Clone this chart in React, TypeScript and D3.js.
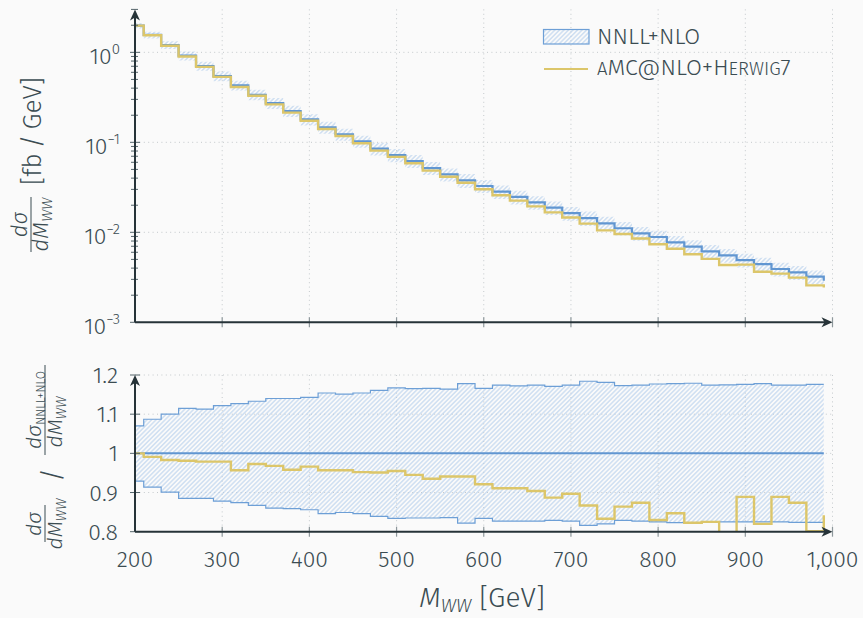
import React from "react";
import * as d3 from "d3";

const W = 863;
const H = 618;

// Bin edges in M_WW (GeV): first half-bin 200-210, then 20 GeV bins up to 990
const binEdges = [200, ...d3.range(210, 991, 20)];

// NNLL+NLO central values dσ/dM_WW [fb/GeV] per bin
const nnllCentral = [
  1.98, 1.56, 1.205, 0.918, 0.705, 0.545, 0.43, 0.338, 0.273, 0.223,
  0.18, 0.147, 0.123, 0.1026, 0.085, 0.0722, 0.062, 0.0518, 0.044, 0.0378,
  0.0327, 0.0283, 0.0247, 0.0215, 0.0188, 0.0163, 0.0144, 0.0126, 0.0111, 0.00975,
  0.00887, 0.00774, 0.00693, 0.00615, 0.00555, 0.00492, 0.00444, 0.00391, 0.00359, 0.00321,
];
const nnllEnd = 0.0029;

// NNLL+NLO uncertainty band, relative to central
const bandUpper = [
  1.070, 1.087, 1.100, 1.115, 1.113, 1.122, 1.127, 1.133, 1.140, 1.140,
  1.143, 1.154, 1.151, 1.154, 1.161, 1.167, 1.165, 1.166, 1.164, 1.178,
  1.166, 1.174, 1.172, 1.174, 1.171, 1.174, 1.184, 1.181, 1.173, 1.174,
  1.177, 1.178, 1.179, 1.174, 1.175, 1.176, 1.178, 1.174, 1.174, 1.176,
];
const bandLower = [
  0.929, 0.914, 0.901, 0.885, 0.885, 0.878, 0.874, 0.867, 0.860, 0.859,
  0.856, 0.846, 0.849, 0.846, 0.839, 0.834, 0.835, 0.835, 0.836, 0.822,
  0.834, 0.827, 0.827, 0.827, 0.829, 0.827, 0.816, 0.820, 0.829, 0.827,
  0.825, 0.823, 0.823, 0.824, 0.825, 0.825, 0.825, 0.825, 0.824, 0.824,
];

// aMC@NLO+Herwig7 ratio to NNLL+NLO
const amcRatio = [
  1.000, 0.991, 0.983, 0.981, 0.979, 0.979, 0.957, 0.973, 0.968, 0.958,
  0.966, 0.957, 0.957, 0.952, 0.951, 0.955, 0.945, 0.935, 0.941, 0.941,
  0.921, 0.911, 0.911, 0.904, 0.887, 0.897, 0.867, 0.833, 0.864, 0.874,
  0.830, 0.847, 0.823, 0.825, 0.780, 0.889, 0.820, 0.889, 0.874, 0.801,
];
const amcRatioEnd = 0.842;

const xTicks = [200, 300, 400, 500, 600, 700, 800, 900, 1000];
const topDecades = [0, -1, -2, -3];
const ratioTicks = [0.8, 0.9, 1.0, 1.1, 1.2];
const ratioTickLabels = ["0.8", "0.9", "1", "1.1", "1.2"];

const FONT = "'Fira Sans', 'Open Sans', sans-serif";
const WEIGHT = 300;
const TEXT = "#3b4c52";
const AXIS = "#263338";
const GRID = "#c4c9cc";
const BLUE = "#6196d1";
const BLUE_BAND = "#6d9fd6";
const HATCH = "#b3cdeb";
const YELLOW = "#dcc66a";

const x = d3.scaleLinear().domain([200, 1000]).range([135, 832.5]);
const yTop = d3.scaleLog().domain([1e-3, 3]).range([322.3, 9.4]);
const yRat = d3.scaleLinear().domain([0.8, 1.2]).range([531.7, 375]);

type Pt = [number, number];

function stepPoints(vals: number[], end?: number): Pt[] {
  const pts: Pt[] = vals.map((v, i) => [binEdges[i], v]);
  pts.push([binEdges[binEdges.length - 1], vals[vals.length - 1]]);
  if (end !== undefined) pts.push([binEdges[binEdges.length - 1], end]);
  return pts;
}

function lineFor(yScale: (v: number) => number) {
  return d3
    .line<Pt>()
    .x((d) => x(d[0]))
    .y((d) => yScale(d[1]))
    .curve(d3.curveStepAfter);
}

type BandPt = [number, number, number];
function bandPoints(lo: number[], hi: number[]): BandPt[] {
  const pts: BandPt[] = lo.map((v, i) => [binEdges[i], v, hi[i]]);
  pts.push([binEdges[binEdges.length - 1], lo[lo.length - 1], hi[hi.length - 1]]);
  return pts;
}
function areaFor(yScale: (v: number) => number) {
  return d3
    .area<BandPt>()
    .x((d) => x(d[0]))
    .y0((d) => yScale(d[1]))
    .y1((d) => yScale(d[2]))
    .curve(d3.curveStepAfter);
}

function ArrowUp({ cx, tip }: { cx: number; tip: number }) {
  return (
    <path
      d={`M${cx},${tip} L${cx - 5},${tip + 11} L${cx},${tip + 8} L${cx + 5},${tip + 11} Z`}
      fill={AXIS}
    />
  );
}
function ArrowRight({ cy, tip }: { cy: number; tip: number }) {
  return (
    <path
      d={`M${tip},${cy} L${tip - 11},${cy - 5} L${tip - 8},${cy} L${tip - 11},${cy + 5} Z`}
      fill={AXIS}
    />
  );
}

function RText({
  sx,
  sy,
  size,
  italic,
  children,
}: {
  sx: number;
  sy: number;
  size: number;
  italic?: boolean;
  children: React.ReactNode;
}) {
  return (
    <text
      transform={`translate(${sx},${sy}) rotate(-90)`}
      textAnchor="middle"
      fontSize={size}
      fontStyle={italic ? "italic" : "normal"}
      fill={TEXT}
    >
      {children}
    </text>
  );
}

export default function App() {
  const x0 = x(200);
  const x1 = x(1000);

  // Top panel
  const topLine = lineFor((v) => yTop(v));
  const blueTop = topLine(stepPoints(nnllCentral, nnllEnd)) || "";
  const amcTopVals = nnllCentral.map((v, i) => v * amcRatio[i]);
  const yellowTop = topLine(stepPoints(amcTopVals, nnllEnd * amcRatioEnd)) || "";
  const topBand =
    areaFor((v) => yTop(v))(
      bandPoints(
        nnllCentral.map((v, i) => v * bandLower[i]),
        nnllCentral.map((v, i) => v * bandUpper[i])
      )
    ) || "";

  const minorTicks: number[] = [];
  topDecades.forEach((e) => {
    for (let k = 2; k <= 9; k++) {
      const v = k * Math.pow(10, e);
      if (v <= 3) minorTicks.push(v);
    }
  });

  // Ratio panel
  const ratLine = lineFor((v) => yRat(v));
  const ratBand = areaFor((v) => yRat(v))(bandPoints(bandLower, bandUpper)) || "";
  const ratUpper = ratLine(stepPoints(bandUpper)) || "";
  const ratLower = ratLine(stepPoints(bandLower)) || "";
  const ratCenter = ratLine(stepPoints(nnllCentral.map(() => 1))) || "";
  const ratAmc = ratLine(stepPoints(amcRatio, amcRatioEnd)) || "";

  const topY0 = yTop(3);
  const topY1 = yTop(1e-3);
  const ratY0 = yRat(1.2);
  const ratY1 = yRat(0.8);

  return (
    <svg
      width={W}
      height={H}
      viewBox={`0 0 ${W} ${H}`}
      style={{ position: "absolute", left: 0, top: 0, display: "block" }}
      fontFamily={FONT}
      fontWeight={WEIGHT}
    >
      <defs>
        <pattern
          id="hatch"
          patternUnits="userSpaceOnUse"
          width={3.2}
          height={3.2}
          patternTransform="rotate(45)"
        >
          <line x1={0.8} y1={0} x2={0.8} y2={3.2} stroke={HATCH} strokeWidth={0.9} />
        </pattern>
        <clipPath id="clipTop">
          <rect x={x0} y={topY0} width={x1 - x0} height={topY1 - topY0} />
        </clipPath>
        <clipPath id="clipRat">
          <rect x={x0} y={ratY0 - 2} width={x1 - x0} height={ratY1 - ratY0 + 2} />
        </clipPath>
      </defs>
      <rect x={0} y={0} width={W} height={H} fill="#fafafa" />

      {/* ---------- TOP PANEL ---------- */}
      <g stroke={GRID} strokeWidth={1} strokeDasharray="1 3.4">
        {xTicks.slice(1).map((t) => (
          <line key={"gx" + t} x1={x(t)} x2={x(t)} y1={topY0} y2={topY1} />
        ))}
        {topDecades.slice(0, 3).map((e) => (
          <line key={"gy" + e} x1={x0} x2={x1} y1={yTop(Math.pow(10, e))} y2={yTop(Math.pow(10, e))} />
        ))}
      </g>
      <g clipPath="url(#clipTop)">
        <path d={topBand} fill="url(#hatch)" />
        <path d={blueTop} fill="none" stroke={BLUE} strokeWidth={2.2} />
        <path d={yellowTop} fill="none" stroke={YELLOW} strokeWidth={2.4} />
      </g>
      {/* top axes */}
      <g stroke="#8d979b" strokeWidth={1.2}>
        {xTicks.slice(1).map((t) => (
          <line key={"tx" + t} x1={x(t)} x2={x(t)} y1={topY1 - 5} y2={topY1 + 5} />
        ))}
      </g>
      <g stroke="#55656b" strokeWidth={1}>
        {topDecades.map((e) => (
          <line key={"ty" + e} x1={x0 - 5} x2={x0 + 5} y1={yTop(Math.pow(10, e))} y2={yTop(Math.pow(10, e))} />
        ))}
        {minorTicks.map((v, i) => (
          <line key={"tm" + i} x1={x0 - 4} x2={x0 + 3} y1={yTop(v)} y2={yTop(v)} />
        ))}
      </g>
      <line x1={x0} x2={x1 - 6} y1={topY1} y2={topY1} stroke={AXIS} strokeWidth={2} />
      <line x1={x0} x2={x0} y1={topY1} y2={topY0 + 6} stroke={AXIS} strokeWidth={2} />
      <ArrowRight cy={topY1} tip={x1} />
      <ArrowUp cx={x0} tip={topY0} />
      <g fill={TEXT} fontSize={23} textAnchor="end">
        {topDecades.map((e) => (
          <text key={"tl" + e} x={120} y={yTop(Math.pow(10, e)) + 11.5}>
            10
            <tspan dy={-9.5} fontSize={15}>
              {e === 0 ? "0" : "\u2212" + Math.abs(e)}
            </tspan>
          </text>
        ))}
      </g>

      {/* Legend */}
      <rect x={543.5} y={29.5} width={45.5} height={14.5} fill="url(#hatch)" stroke={BLUE_BAND} strokeWidth={1.2} />
      <text x={597} y={43.5} fontSize={23} fill={TEXT}>
        NNLL+NLO
      </text>
      <line x1={544} x2={588} y1={69} y2={69} stroke={YELLOW} strokeWidth={2.2} />
      <text x={597} y={75} fontSize={23} fill={TEXT}>
        <tspan fontSize={18.5}>A</tspan>
        <tspan>MC@NLO+H</tspan>
        <tspan fontSize={18.5}>ERWIG</tspan>
        <tspan>7</tspan>
      </text>

      {/* ---------- RATIO PANEL ---------- */}
      <g stroke={GRID} strokeWidth={1} strokeDasharray="1 3.4">
        {xTicks.slice(1).map((t) => (
          <line key={"rgx" + t} x1={x(t)} x2={x(t)} y1={ratY0} y2={ratY1} />
        ))}
        {ratioTicks.slice(1).map((t) => (
          <line key={"rgy" + t} x1={x0} x2={x1} y1={yRat(t)} y2={yRat(t)} />
        ))}
      </g>
      <g clipPath="url(#clipRat)">
        <path d={ratBand} fill="url(#hatch)" />
        <path d={ratUpper} fill="none" stroke={BLUE_BAND} strokeWidth={1.2} />
        <path d={ratLower} fill="none" stroke={BLUE_BAND} strokeWidth={1.2} />
        <path d={ratCenter} fill="none" stroke={BLUE} strokeWidth={2} />
        <path d={ratAmc} fill="none" stroke={YELLOW} strokeWidth={2.4} />
      </g>
      <g stroke="#8d979b" strokeWidth={1.2}>
        {xTicks.slice(1).map((t) => (
          <line key={"rtx" + t} x1={x(t)} x2={x(t)} y1={ratY1 - 5} y2={ratY1 + 5} />
        ))}
      </g>
      <g stroke="#55656b" strokeWidth={1}>
        {ratioTicks.map((t) => (
          <line key={"rty" + t} x1={x0 - 5} x2={x0 + 5} y1={yRat(t)} y2={yRat(t)} />
        ))}
      </g>
      <line x1={x0} x2={x1 - 6} y1={ratY1} y2={ratY1} stroke={AXIS} strokeWidth={2} />
      <line x1={x0} x2={x0} y1={ratY1} y2={ratY0 + 6} stroke={AXIS} strokeWidth={2} />
      <ArrowRight cy={ratY1} tip={x1} />
      <ArrowUp cx={x0} tip={ratY0} />
      <g fill={TEXT} fontSize={23} textAnchor="end">
        {ratioTicks.map((t, i) => (
          <text key={"rl" + t} x={118} y={yRat(t) + 8}>
            {ratioTickLabels[i]}
          </text>
        ))}
      </g>
      <g fill={TEXT} fontSize={23} textAnchor="middle">
        {xTicks.map((t) => (
          <text key={"xl" + t} x={x(t)} y={566.5}>
            {d3.format(",")(t)}
          </text>
        ))}
      </g>

      {/* x axis title */}
      <text x={482} y={607} fontSize={28} fill={TEXT} textAnchor="middle">
        <tspan fontStyle="italic">M</tspan>
        <tspan fontStyle="italic" fontSize={19} dy={5}>
          WW
        </tspan>
        <tspan dy={-5}> [GeV]</tspan>
      </text>

      {/* top y label */}
      <RText sx={27} sy={224.5} size={22} italic>
        dσ
      </RText>
      <line x1={31} x2={31} y1={197} y2={252} stroke={TEXT} strokeWidth={1} />
      <RText sx={48} sy={224.5} size={22}>
        <tspan fontStyle="italic">dM</tspan>
        <tspan fontStyle="italic" fontSize={15} dy={4}>
          WW
        </tspan>
      </RText>
      <RText sx={41} sy={131} size={26}>
        {"[fb\u2009/\u2009GeV]"}
      </RText>

      {/* ratio y label */}
      <RText sx={41} sy={524} size={21} italic>
        dσ
      </RText>
      <line x1={45} x2={45} y1={505} y2={542} stroke={TEXT} strokeWidth={1} />
      <RText sx={62} sy={524} size={21}>
        <tspan fontStyle="italic">dM</tspan>
        <tspan fontStyle="italic" fontSize={14} dy={4}>
          WW
        </tspan>
      </RText>
      <RText sx={61} sy={475} size={26}>
        /
      </RText>
      <RText sx={41} sy={410} size={21}>
        <tspan fontStyle="italic">dσ</tspan>
        <tspan fontSize={12} dy={4}>
          NNLL+NLO
        </tspan>
      </RText>
      <line x1={45} x2={45} y1={365} y2={455} stroke={TEXT} strokeWidth={1} />
      <RText sx={62} sy={422} size={21}>
        <tspan fontStyle="italic">dM</tspan>
        <tspan fontStyle="italic" fontSize={14} dy={4}>
          WW
        </tspan>
      </RText>
    </svg>
  );
}
